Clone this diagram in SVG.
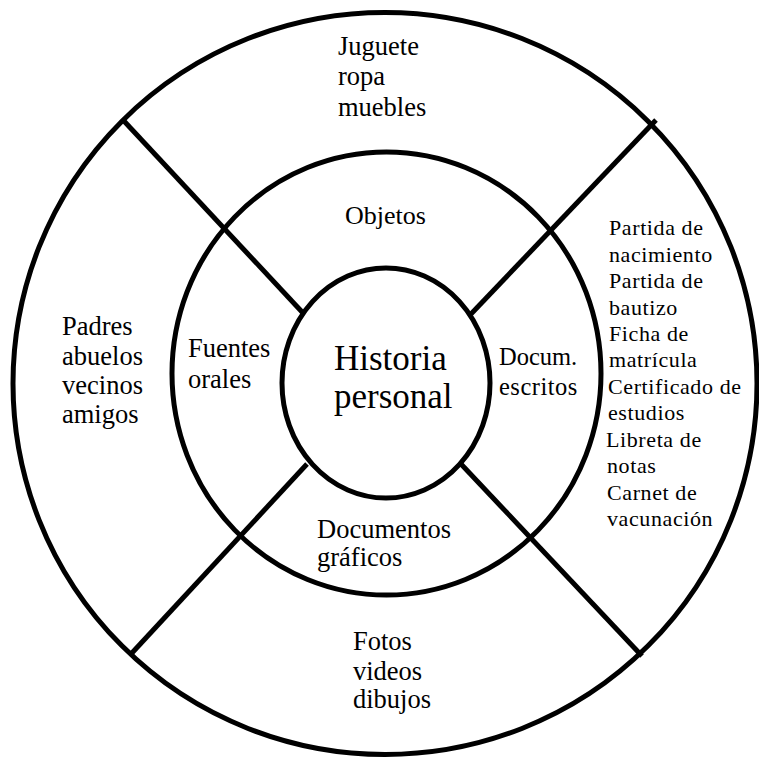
<svg xmlns="http://www.w3.org/2000/svg" width="759" height="757" viewBox="0 0 759 757">
<style>
.ring{fill:none;stroke:#000;stroke-width:5}
.conn{stroke:#000;stroke-width:5;fill:none}
text{font-family:"Liberation Serif","Times New Roman",serif;fill:#000}
.lbl{font-size:26.5px}
.sm{font-size:24.5px}
.ctr{font-size:35px}
.doc{font-size:22px;letter-spacing:0.6px}
</style>
<rect width="759" height="757" fill="#fff"/>
<g id="outer-ring"><ellipse class="ring" cx="385" cy="383.5" rx="372" ry="371"/></g>
<g id="middle-ring"><ellipse class="ring" cx="386.5" cy="373.5" rx="214.5" ry="221.5"/></g>
<g id="center">
<ellipse class="ring" cx="386" cy="383" rx="104" ry="115"/>
<text class="ctr" x="334" y="370">Historia</text>
<text class="ctr" x="334" y="408">personal</text>
</g>
<g id="connectors">
<line class="conn" x1="123.5" y1="120.5" x2="303" y2="313"/>
<line class="conn" x1="656" y1="120" x2="471" y2="314"/>
<line class="conn" x1="131" y1="654" x2="307" y2="464"/>
<line class="conn" x1="642" y1="656" x2="461" y2="464"/>
</g>
<g id="objetos"><text class="lbl" x="345" y="224" style="font-size:26px">Objetos</text></g>
<g id="juguete">
<text class="lbl" x="338" y="55">Juguete</text>
<text class="lbl" x="338" y="85">ropa</text>
<text class="lbl" x="338" y="116">muebles</text>
</g>
<g id="fuentes-orales">
<text class="lbl" x="188" y="357">Fuentes</text>
<text class="lbl" x="188" y="388">orales</text>
</g>
<g id="padres">
<text class="lbl" x="62" y="335">Padres</text>
<text class="lbl" x="62" y="365">abuelos</text>
<text class="lbl" x="62" y="394">vecinos</text>
<text class="lbl" x="62" y="423">amigos</text>
</g>
<g id="docum-escritos">
<text class="sm" x="499" y="365">Docum.</text>
<text class="sm" x="499" y="395" letter-spacing="0.5">escritos</text>
</g>
<g id="documentos-lista">
<text class="doc" x="609" y="235">Partida de</text>
<text class="doc" x="609" y="261.5">nacimiento</text>
<text class="doc" x="609" y="288">Partida de</text>
<text class="doc" x="609" y="314.5">bautizo</text>
<text class="doc" x="609" y="341">Ficha de</text>
<text class="doc" x="609" y="367">matrícula</text>
<text class="doc" x="608" y="394">Certificado de</text>
<text class="doc" x="608" y="420">estudios</text>
<text class="doc" x="606" y="447">Libreta de</text>
<text class="doc" x="607" y="473">notas</text>
<text class="doc" x="607" y="500">Carnet de</text>
<text class="doc" x="607" y="526">vacunación</text>
</g>
<g id="documentos-graficos">
<text class="lbl" x="317" y="538">Documentos</text>
<text class="lbl" x="317" y="566">gráficos</text>
</g>
<g id="fotos">
<text class="lbl" x="353" y="650">Fotos</text>
<text class="lbl" x="353" y="680">videos</text>
<text class="lbl" x="353" y="708">dibujos</text>
</g>
</svg>
